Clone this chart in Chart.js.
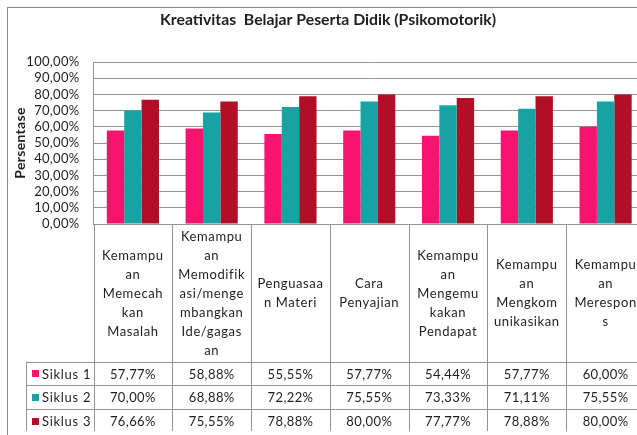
<!DOCTYPE html>
<html>
<head>
<meta charset="utf-8">
<script src="https://cdn.jsdelivr.net/npm/chart.js@4.4.1/dist/chart.umd.min.js"></script>
<style>
  html, body { margin: 0; padding: 0; background: #fff; overflow: hidden; }
  #wrap { width: 637px; height: 435px; overflow: hidden; }
</style>
</head>
<body>
<div id="wrap"><canvas id="myChart" width="660" height="435"></canvas></div>
<script>
// category labels, already wrapped the way the table cells show them
var categories = [
  ["Kemampu", "an", "Memecah", "kan", "Masalah"],
  ["Kemampu", "an", "Memodifik", "asi/menge", "mbangkan", "Ide/gagas", "an"],
  ["Penguasaa", "n Materi"],
  ["Cara", "Penyajian"],
  ["Kemampu", "an", "Mengemu", "kakan", "Pendapat"],
  ["Kemampu", "an", "Mengkom", "unikasikan"],
  ["Kemampu", "an", "Merespon", "s"]
];
var seriesNames = ["Siklus 1", "Siklus 2", "Siklus 3"];
var siklus1 = [57.77, 58.88, 55.55, 57.77, 54.44, 57.77, 60.00];
var siklus2 = [70.00, 68.88, 72.22, 75.55, 73.33, 71.11, 75.55];
var siklus3 = [76.66, 75.55, 78.88, 80.00, 77.77, 78.88, 80.00];
var colors = ["#F8146E", "#17A3A4", "#B00F27"];
var chartTitle = "Kreativitas  Belajar Peserta Didik (Psikomotorik)";

var FONT = "Lato, 'Open Sans', sans-serif";
var lineCol = "#949494";
var textCol = "#1e1e1e";

function pct(v) {
  return v.toFixed(2).replace('.', ',') + '%';
}

var allSeries = [siklus1, siklus2, siklus3];

// frame + title, and the slightly wider text spacing the axis labels use
var framePlugin = {
  id: 'frame',
  beforeDraw: function(chart) {
    var ctx = chart.ctx;
    ctx.save();
    ctx.strokeStyle = "#8a8a8a";
    ctx.lineWidth = 1;
    ctx.strokeRect(7.5, 7.5, chart.width + 20, chart.height + 20);
    ctx.letterSpacing = "0px";
    ctx.fillStyle = textCol;
    ctx.font = "bold 15.8px " + FONT;
    ctx.textAlign = "center";
    ctx.textBaseline = "middle";
    ctx.fillText(chartTitle, 328, 20);
    ctx.restore();
    ctx.letterSpacing = "0.3px";
  }
};

// data table under the plot
var tablePlugin = {
  id: 'dataTable',
  afterDraw: function(chart) {
    var ctx = chart.ctx;
    var area = chart.chartArea;
    var n = categories.length;
    var colW = (area.right - area.left) / n;
    var headBottom = 361.5;
    var rowH = 23.7;
    var tableBottom = 431;
    var legendLeft = 26.5;

    ctx.save();
    ctx.strokeStyle = lineCol;
    ctx.lineWidth = 1;
    ctx.beginPath();
    for (var i = 0; i <= n; i++) {
      var xx = Math.round(area.left + i * colW) + 0.5;
      ctx.moveTo(xx, area.bottom);
      ctx.lineTo(xx, tableBottom);
    }
    ctx.moveTo(legendLeft, headBottom);
    ctx.lineTo(legendLeft, tableBottom);
    for (var r = 0; r < 3; r++) {
      var yy = Math.round(headBottom + r * rowH) + 0.5;
      ctx.moveTo(legendLeft, yy);
      ctx.lineTo(area.right, yy);
    }
    ctx.stroke();

    ctx.fillStyle = textCol;
    ctx.textAlign = "center";
    ctx.textBaseline = "middle";
    var midHead = 293.5;
    var lh = 19;
    for (var c = 0; c < n; c++) {
      var cx = area.left + (c + 0.5) * colW;
      var lines = categories[c];
      var y0 = midHead - (lines.length - 1) * lh / 2;
      ctx.font = "13px " + FONT;
      ctx.letterSpacing = "0.6px";
      for (var k = 0; k < lines.length; k++) {
        ctx.fillText(lines[k], cx, y0 + k * lh);
      }
      ctx.letterSpacing = "0.4px";
      for (var s = 0; s < 3; s++) {
        ctx.fillText(pct(allSeries[s][c]), cx, headBottom + (s + 0.5) * rowH + 1);
      }
    }

    ctx.textAlign = "left";
    ctx.font = "13px " + FONT;
    ctx.letterSpacing = "0.7px";
    for (var s2 = 0; s2 < 3; s2++) {
      var cy = headBottom + (s2 + 0.5) * rowH + 1;
      ctx.fillStyle = colors[s2];
      ctx.fillRect(32, Math.round(cy - 4), 7, 7);
      ctx.fillStyle = textCol;
      ctx.fillText(seriesNames[s2], 42, cy);
    }
    ctx.restore();
  }
};

var ctx = document.getElementById("myChart").getContext('2d');

var options = {
  type: 'bar',
  data: {
    labels: categories.map(function(c) { return c.join(' '); }),
    datasets: [
      { label: seriesNames[0], data: siklus1, backgroundColor: colors[0] },
      { label: seriesNames[1], data: siklus2, backgroundColor: colors[1] },
      { label: seriesNames[2], data: siklus3, backgroundColor: colors[2] }
    ]
  },
  options: {
    responsive: false,
    animation: false,
    devicePixelRatio: 1,
    layout: { padding: { left: 11, right: 15, top: 62, bottom: 211 } },
    datasets: {
      bar: { categoryPercentage: 0.662, barPercentage: 1, borderWidth: 0 }
    },
    plugins: {
      legend: { display: false },
      tooltip: { enabled: false },
      title: { display: false }
    },
    scales: {
      x: {
        grid: { display: false, drawTicks: false, tickLength: 0 },
        border: { display: true, color: lineCol, width: 1 },
        ticks: { display: false }
      },
      y: {
        min: 0,
        max: 100,
        afterFit: function(scale) { scale.width = 82.5; },
        ticks: {
          stepSize: 10,
          autoSkip: false,
          padding: 14,
          color: textCol,
          font: { family: FONT, size: 13 },
          callback: function(v) { return pct(v); }
        },
        grid: { color: lineCol, drawTicks: false, lineWidth: 1 },
        border: { display: true, color: lineCol, width: 1 },
        title: {
          display: true,
          text: "Persentase",
          color: textCol,
          font: { family: FONT, size: 14, weight: 'bold' },
          padding: { top: 1, bottom: 0 }
        }
      }
    }
  },
  plugins: [framePlugin, tablePlugin]
};

new Chart(ctx, options);
</script>
</body>
</html>
